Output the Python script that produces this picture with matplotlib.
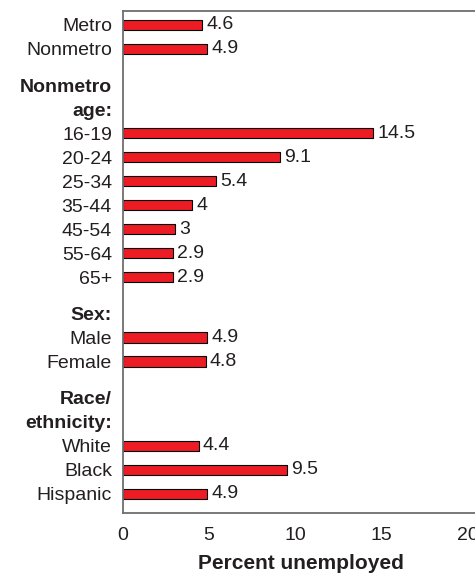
import matplotlib.pyplot as plt

# ---- Data
groupHeaders = ['', 'Nonmetro\nage:', 'Sex:', 'Race/\nethnicity:']
groupLabels = [
    ['Metro', 'Nonmetro'],
    ['16-19', '20-24', '25-34', '35-44', '45-54', '55-64', '65+'],
    ['Male', 'Female'],
    ['White', 'Black', 'Hispanic'],
]
groupValues = [
    [4.6, 4.9],
    [14.5, 9.1, 5.4, 4, 3, 2.9, 2.9],
    [4.9, 4.8],
    [4.4, 9.5, 4.9],
]
valueText = [
    ['4.6', '4.9'],
    ['14.5', '9.1', '5.4', '4', '3', '2.9', '2.9'],
    ['4.9', '4.8'],
    ['4.4', '9.5', '4.9'],
]
xTicks = [0, 5, 10, 15, 20]
xLabel = 'Percent unemployed'

textColor = '#231F20'
barColor = '#ED1C24'
spineColor = '#6D6E71'
fontSize = 14

plt.rcParams['font.family'] = ['Liberation Sans', 'DejaVu Sans']

# ---- Work out the row positions: items, a gap, then header lines
barPos, barVals, barTxt = [], [], []
tickPos, tickLab, tickBold = [], [], []
pos = 0.0
for g, header in enumerate(groupHeaders):
    if g > 0:
        pos += 0.5
    if header:
        for line in header.split('\n'):
            tickPos.append(pos)
            tickLab.append(line)
            tickBold.append(True)
            pos += 1.0
    for lab, val, txt in zip(groupLabels[g], groupValues[g], valueText[g]):
        tickPos.append(pos)
        tickLab.append(lab)
        tickBold.append(False)
        barPos.append(pos)
        barVals.append(val)
        barTxt.append(txt)
        pos += 1.0
lastPos = pos - 1.0

fig = plt.figure(figsize=(4.75, 5.75), dpi=100)
ax = fig.add_axes([123 / 475, 1 - 513 / 575, (478 - 123) / 475, (513 - 11) / 575])

ax.barh(barPos, barVals, height=0.42, color=barColor, edgecolor='black', linewidth=0.8)
for p, v, t in zip(barPos, barVals, barTxt):
    ax.annotate(t, (v, p), xytext=(3, 0), textcoords='offset points', va='center', ha='left',
                fontsize=fontSize, color=textColor)

ax.set_xlim(0, 20.6)
ax.set_ylim(lastPos + 0.8, -0.58)

ax.set_yticks(tickPos)
ax.set_yticklabels(tickLab)
for lab, bold in zip(ax.get_yticklabels(), tickBold):
    if bold:
        lab.set_fontweight('bold')
ax.set_xticks(xTicks)
ax.tick_params(axis='both', length=0, labelsize=fontSize, labelcolor=textColor)
ax.tick_params(axis='y', pad=8)
ax.tick_params(axis='x', pad=10)
ax.set_xlabel(xLabel, fontsize=fontSize + 1, fontweight='bold', color=textColor, labelpad=7)

for side in ['left', 'top', 'bottom', 'right']:
    ax.spines[side].set_color(spineColor)
    ax.spines[side].set_linewidth(1.3)

plt.savefig('out.png', dpi=100)
plt.close()
